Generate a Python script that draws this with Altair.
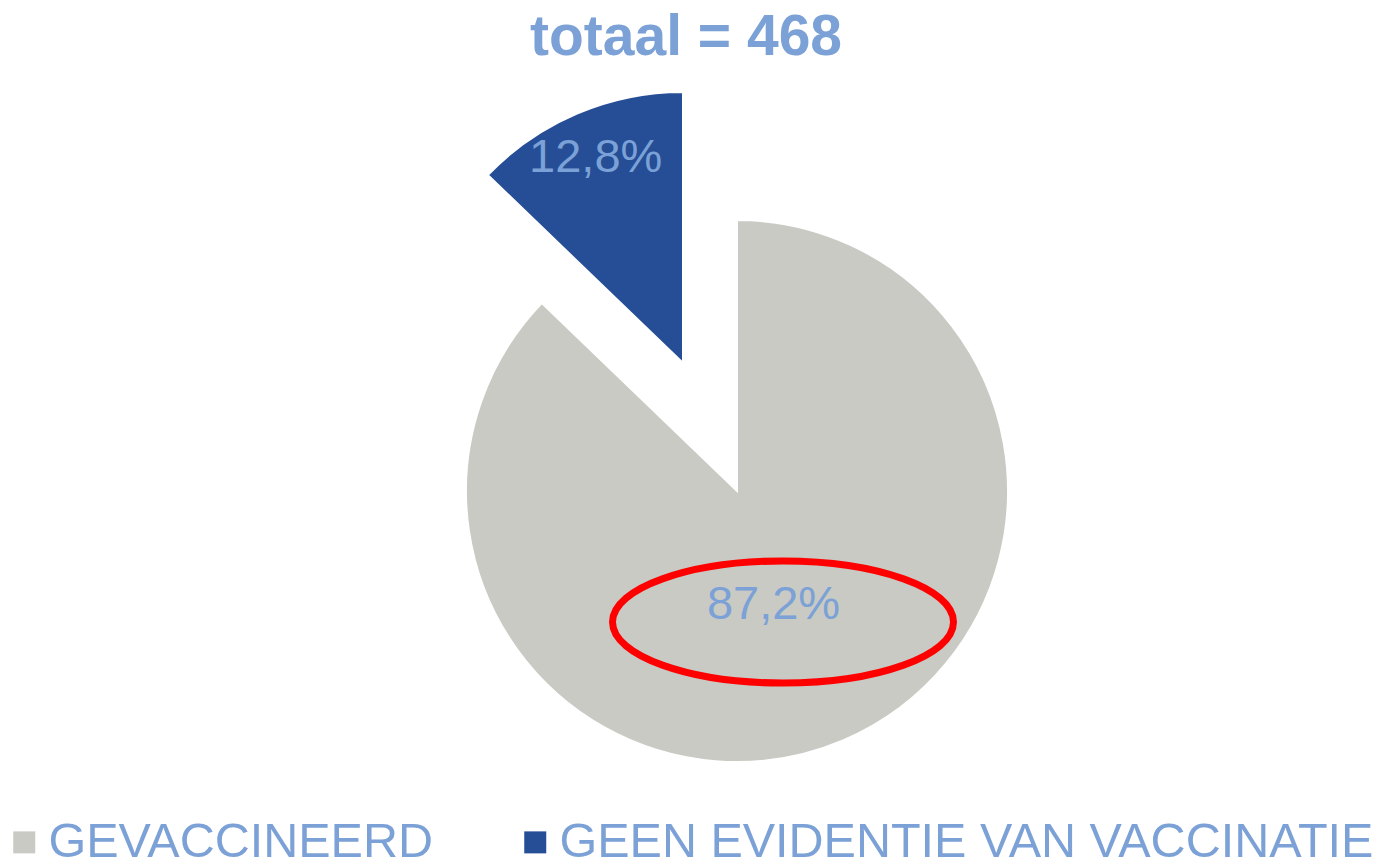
import altair as alt
import pandas as pd

# ---- data ----
categories = ["GEVACCINEERD", "GEEN EVIDENTIE VAN VACCINATIE"]
percentages = [87.2, 12.8]
labels = ["87,2%", "12,8%"]
exploded = [False, True]
colors = ["#C8CAC3", "#254E96"]
title_text = ["totaal = 468"]

df = pd.DataFrame({
    "category": categories,
    "pct": percentages,
    "label": labels,
    "idx": list(range(len(categories))),
    "exploded": exploded,
})

LABEL_COLOR = "#7BA1D6"
FONT = "Liberation Sans"

color_scale = alt.Scale(domain=categories, range=colors)

base = alt.Chart(df).encode(
    theta=alt.Theta("pct:Q", stack=True),
    order=alt.Order("idx:Q"),
)

show_main = alt.condition("datum.exploded", alt.value(0), alt.value(1))
show_expl = alt.condition("datum.exploded", alt.value(1), alt.value(0))

pie_main = base.mark_arc(radius=271, stroke="white", strokeWidth=2).encode(
    x=alt.value(737), y=alt.value(491),
    color=alt.Color(
        "category:N", scale=color_scale, sort=categories,
        legend=alt.Legend(
            title=None, orient="none", direction="horizontal",
            legendX=-4, legendY=818, symbolType="square", symbolSize=484,
            symbolStrokeWidth=0, symbolOpacity=1, symbolOffset=4,
            labelFontSize=48.5, labelFont=FONT, labelColor=LABEL_COLOR,
            labelLimit=1000, labelOffset=0, columnPadding=74, padding=0,
        ),
    ),
    opacity=show_main,
)

pie_expl = base.mark_arc(radius=271, stroke="white", strokeWidth=2).encode(
    x=alt.value(683), y=alt.value(363),
    color=alt.Color("category:N", scale=color_scale, sort=categories, legend=None),
    opacity=show_expl,
)

text_main = base.mark_text(
    radius=124, dx=-12, fontSize=47, font=FONT, color=LABEL_COLOR,
    align="center", baseline="middle",
).encode(text="label:N", x=alt.value(737), y=alt.value(491), opacity=show_main)

text_expl = base.mark_text(
    radius=223, fontSize=47, font=FONT, color=LABEL_COLOR,
    align="center", baseline="middle",
).encode(text="label:N", x=alt.value(683), y=alt.value(363), opacity=show_expl)

ELLIPSE = "M -1 0 A 1 0.358 0 1 1 1 0 A 1 0.358 0 1 1 -1 0 Z"
ellipse = alt.Chart(pd.DataFrame({"a": [1]})).mark_point(
    shape=ELLIPSE, size=341 * 341, filled=False, stroke="#FF0000",
    strokeWidth=7, opacity=1,
).encode(x=alt.value(783), y=alt.value(622))

title = alt.Chart(pd.DataFrame({"t": title_text})).mark_text(
    fontSize=57, fontWeight="bold", font=FONT, color=LABEL_COLOR,
    align="center", baseline="alphabetic",
).encode(text="t:N", x=alt.value(686), y=alt.value(55))

chart = alt.layer(pie_main, pie_expl, text_main, text_expl, ellipse, title).properties(
    width=1381, height=859,
    autosize=alt.AutoSizeParams(type="none"),
    padding=0,
    background="white",
).configure_view(strokeWidth=0)

chart.save("out.html", embed_options={"renderer": "svg", "actions": False})
